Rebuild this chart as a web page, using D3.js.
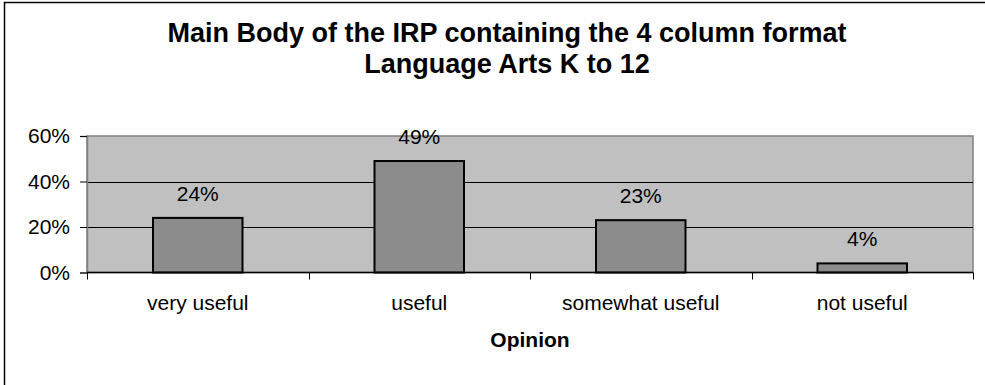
<!DOCTYPE html>
<html>
<head>
<meta charset="utf-8">
<script src="https://cdn.jsdelivr.net/npm/d3@7"></script>
<style>
  html, body { margin: 0; padding: 0; background: #fff; }
  svg { display: block; font-family: "Liberation Sans", Arial, sans-serif; }
</style>
</head>
<body>
<svg id="chart" width="985" height="385"></svg>
<script>
// Survey results: how useful respondents found the four-column main body
const titleLines = ["Main Body of the IRP containing the 4 column format", "Language Arts K to 12"];
const categories = ["very useful", "useful", "somewhat useful", "not useful"];
const values = [0.24, 0.49, 0.23, 0.04];
const yTicks = [0, 0.2, 0.4, 0.6];
const yTickLabels = ["0%", "20%", "40%", "60%"];
const xAxisTitle = "Opinion";

const svg = d3.select("#chart");
const plot = { left: 87, right: 973, top: 136, bottom: 272.5 };
const fontSize = 21;

// outer chart frame (runs off the right and bottom edges)
svg.append("rect")
  .attr("x", 4.5).attr("y", 2.5)
  .attr("width", 1000).attr("height", 400)
  .attr("fill", "#fff").attr("stroke", "#000").attr("stroke-width", 1.5);

// title
svg.append("text")
  .attr("x", 507).attr("y", 42)
  .attr("text-anchor", "middle")
  .attr("font-size", 27).attr("font-weight", "bold").attr("fill", "#000")
  .selectAll("tspan").data(titleLines).join("tspan")
  .attr("x", 507).attr("dy", (d, i) => i === 0 ? 0 : 31)
  .text(d => d);

const slot = d3.scaleBand().domain(categories).range([plot.left, plot.right]).padding(0);
const x = d3.scaleBand().domain(categories).range([plot.left, plot.right])
  .paddingInner(0.596).paddingOuter(0.298);
const y = d3.scaleLinear().domain([0, 0.6]).range([plot.bottom, plot.top]);

// plot background
svg.append("rect")
  .attr("x", plot.left).attr("y", plot.top)
  .attr("width", plot.right - plot.left).attr("height", plot.bottom - plot.top)
  .attr("fill", "#c0c0c0").attr("stroke", "#808080").attr("stroke-width", 1.5);

// gridlines
svg.append("g").selectAll("line").data(yTicks.filter(t => t > 0 && t < 0.6)).join("line")
  .attr("x1", plot.left).attr("x2", plot.right)
  .attr("y1", d => Math.round(y(d)) + 0.5).attr("y2", d => Math.round(y(d)) + 0.5)
  .attr("stroke", "#000").attr("stroke-width", 1);

// y axis
const yAxis = d3.axisLeft(y).tickValues(yTicks)
  .tickFormat((d, i) => yTickLabels[i]).tickSize(7).tickPadding(10);
const gy = svg.append("g").attr("transform", `translate(${plot.left},0)`).call(yAxis);
gy.select(".domain").attr("stroke", "#808080").attr("stroke-width", 1.5);
gy.selectAll(".tick line").attr("stroke", "#000");
gy.selectAll(".tick text").attr("font-size", fontSize).attr("fill", "#000")
  .attr("font-family", "Liberation Sans, Arial, sans-serif");

// bars
svg.append("g").selectAll("rect").data(values).join("rect")
  .attr("x", (d, i) => x(categories[i]))
  .attr("y", d => y(d))
  .attr("width", x.bandwidth())
  .attr("height", d => y(0) - y(d))
  .attr("fill", "#8c8c8c").attr("stroke", "#000").attr("stroke-width", 2);

// value labels
svg.append("g").selectAll("text").data(values).join("text")
  .attr("x", (d, i) => x(categories[i]) + x.bandwidth() / 2)
  .attr("y", d => y(d) - 17)
  .attr("text-anchor", "middle").attr("font-size", fontSize).attr("fill", "#000")
  .text(d => Math.round(d * 100) + "%");

// x axis line and slot-boundary ticks
svg.append("line")
  .attr("x1", plot.left).attr("x2", plot.right)
  .attr("y1", plot.bottom).attr("y2", plot.bottom)
  .attr("stroke", "#000").attr("stroke-width", 1.5);
const bounds = categories.map(c => slot(c)).concat([slot(categories[categories.length - 1]) + slot.bandwidth()]);
svg.append("g").selectAll("line").data(bounds).join("line")
  .attr("x1", d => Math.round(d) + 0.5).attr("x2", d => Math.round(d) + 0.5)
  .attr("y1", plot.bottom).attr("y2", plot.bottom + 7)
  .attr("stroke", "#000").attr("stroke-width", 1);

// category labels
svg.append("g").selectAll("text").data(categories).join("text")
  .attr("x", d => slot(d) + slot.bandwidth() / 2)
  .attr("y", 310)
  .attr("text-anchor", "middle").attr("font-size", fontSize).attr("fill", "#000")
  .text(d => d);

// axis title
svg.append("text")
  .attr("x", (plot.left + plot.right) / 2).attr("y", 347)
  .attr("text-anchor", "middle").attr("font-size", fontSize).attr("font-weight", "bold").attr("fill", "#000")
  .text(xAxisTitle);
</script>
</body>
</html>
